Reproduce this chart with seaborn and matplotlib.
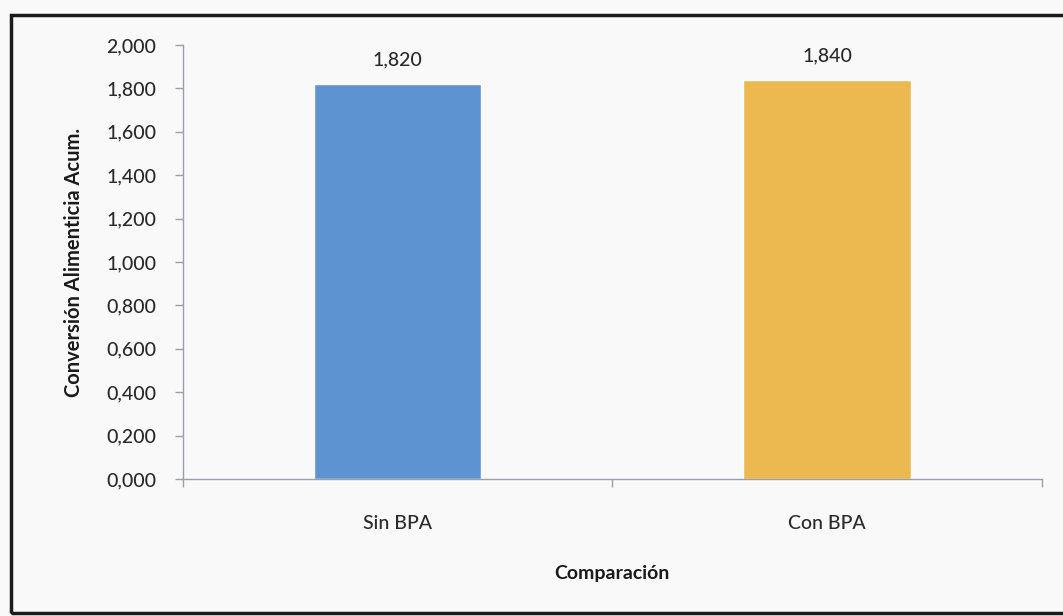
import matplotlib
matplotlib.use("Agg")
import matplotlib.pyplot as plt
import matplotlib.patches as mpatches
from matplotlib.ticker import FuncFormatter, FixedLocator
import seaborn as sns
import pandas as pd

categories = ["Sin BPA", "Con BPA"]
values = [1.820, 1.840]
colors = ["#5d93d0", "#ebb94f"]
y_ticks = [0.0, 0.2, 0.4, 0.6, 0.8, 1.0, 1.2, 1.4, 1.6, 1.8, 2.0]

sns.set_theme(style="white")
plt.rcParams['font.family'] = ['Lato', 'DejaVu Sans']

df = pd.DataFrame({"cat": categories, "val": values})

fig = plt.figure(figsize=(10.63, 6.16), dpi=100)
fig.patch.set_facecolor("#f9f9f9")
ax = fig.add_axes([0.172, 0.2224, 0.808, 0.7046])
ax.set_facecolor("#f9f9f9")

sns.barplot(data=df, x="cat", y="val", hue="cat", palette=colors, width=0.39,
            legend=False, ax=ax, saturation=1)

ax.set_xlim(-0.5, 1.5)
ax.set_ylim(0, 2.0)
ax.set_yticks(y_ticks)
ax.yaxis.set_major_formatter(FuncFormatter(lambda v, p: f"{v:.3f}".replace(".", ",")))

for i, v in enumerate(values):
    ax.text(i, v + 0.07, f"{v:.3f}".replace(".", ","), ha="center", va="bottom",
            fontsize=14, color="#2a2a2a", fontweight="medium")

for s in ["top", "right"]:
    ax.spines[s].set_visible(False)
for s in ["left", "bottom"]:
    ax.spines[s].set_color("#9aa0aa")
    ax.spines[s].set_linewidth(1.0)

ax.tick_params(axis="y", which="major", left=True, length=6, width=1, color="#9aa0aa",
               labelsize=14, labelcolor="#2a2a2a", pad=13)
ax.tick_params(axis="x", which="major", bottom=False, labelsize=14, labelcolor="#2a2a2a", pad=20)
for lbl in ax.get_xticklabels() + ax.get_yticklabels():
    lbl.set_fontweight("medium")
ax.xaxis.set_minor_locator(FixedLocator([-0.5, 0.5, 1.5]))
ax.tick_params(axis="x", which="minor", bottom=True, length=6, width=1, color="#9aa0aa")

ax.set_xlabel("Comparación", fontsize=14, fontweight="bold", color="#1a1a1a", labelpad=24)
ax.set_ylabel("Conversión Alimenticia Acum.", fontsize=14.5, fontweight="bold", color="#1a1a1a",
              labelpad=16)

border = mpatches.Rectangle((11 / 1063, 3 / 616), 1.1, 598 / 616, transform=fig.transFigure,
                            fill=False, edgecolor="#1a1a1a", linewidth=2.5, clip_on=False)
fig.patches.append(border)

fig.savefig("out.png", dpi=100)
